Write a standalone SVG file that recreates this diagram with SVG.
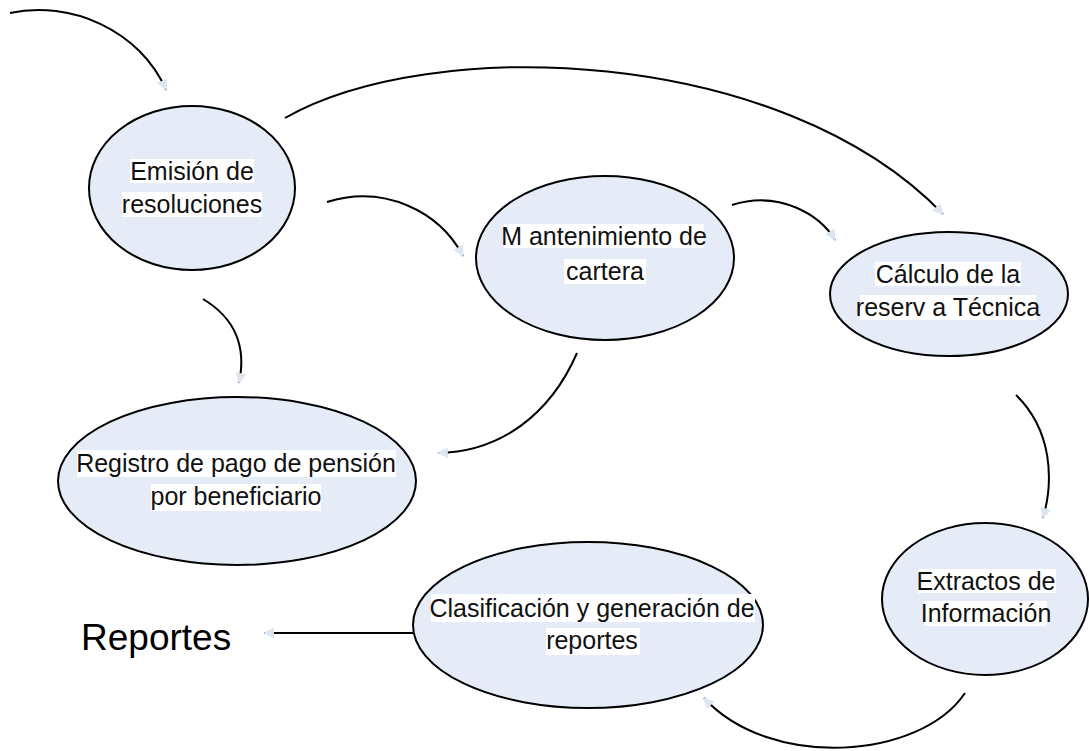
<svg xmlns="http://www.w3.org/2000/svg" width="1089" height="751" viewBox="0 0 1089 751">
<style>
.n{fill:#e6ecf7;stroke:#000;stroke-width:2}
.t{font-family:"Liberation Sans",Arial,sans-serif;font-size:25px;fill:#111;text-anchor:middle}
.bg{fill:#fff}
.c{fill:none;stroke:#000;stroke-width:2}
</style>
<defs>
<marker id="a" viewBox="0 0 10 10" refX="9" refY="5" markerWidth="12" markerHeight="11" markerUnits="userSpaceOnUse" orient="auto">
<path d="M0,0L10,5L0,10z" fill="#dde5f3"/>
</marker>
</defs>
<rect width="1089" height="751" fill="#fff"/>
<g id="connectors">
<path class="c" d="M10,13 C70,0 140,30 166,90" marker-end="url(#a)"/>
<path class="c" d="M285,118 C430,35 780,45 943,214" marker-end="url(#a)"/>
<path class="c" d="M327,202 C385,184 440,212 463,256" marker-end="url(#a)"/>
<path class="c" d="M732,205 C780,190 820,215 835,240" marker-end="url(#a)"/>
<path class="c" d="M203,299 C238,320 246,350 239,383" marker-end="url(#a)"/>
<path class="c" d="M577,353 C550,415 500,452 438,453" marker-end="url(#a)"/>
<path class="c" d="M1016,395 C1052,430 1054,480 1043,518" marker-end="url(#a)"/>
<path class="c" d="M965,693 C920,760 770,770 704,698" marker-end="url(#a)"/>
<path class="c" d="M415,633 L264,633" marker-end="url(#a)"/>
</g>
<g id="emision">
<ellipse class="n" cx="192" cy="188" rx="103" ry="82"/>
<rect class="bg" x="130" y="159" width="124" height="24"/>
<rect class="bg" x="122" y="192" width="140" height="25"/>
<text class="t" x="192" y="180">Emisión de</text>
<text class="t" x="192" y="213">resoluciones</text>
</g>
<g id="mantenimiento">
<ellipse class="n" cx="605" cy="258" rx="129" ry="82"/>
<rect class="bg" x="504" y="224" width="200" height="24"/>
<rect class="bg" x="564" y="259" width="82" height="25"/>
<text class="t" x="604" y="245">M antenimiento de</text>
<text class="t" x="605" y="280">cartera</text>
</g>
<g id="calculo">
<ellipse class="n" cx="949" cy="294" rx="119" ry="62"/>
<rect class="bg" x="875" y="262" width="146" height="24"/>
<rect class="bg" x="860" y="295" width="176" height="25"/>
<text class="t" x="948" y="283">Cálculo de la</text>
<text class="t" x="948" y="316">reserv a Técnica</text>
</g>
<g id="registro">
<ellipse class="n" cx="237" cy="481" rx="179" ry="84"/>
<rect class="bg" x="77" y="450" width="319" height="27"/>
<rect class="bg" x="151" y="484" width="170" height="27"/>
<text class="t" x="236" y="472">Registro de pago de pensión</text>
<text class="t" x="236" y="505">por beneficiario</text>
</g>
<g id="extractos">
<ellipse class="n" cx="985" cy="599" rx="103" ry="76"/>
<rect class="bg" x="918" y="569" width="138" height="24"/>
<rect class="bg" x="924" y="601" width="123" height="25"/>
<text class="t" x="986" y="590">Extractos de</text>
<text class="t" x="986" y="622">Información</text>
</g>
<g id="clasificacion">
<ellipse class="n" cx="588" cy="625" rx="175" ry="83"/>
<rect class="bg" x="431" y="594" width="324" height="28"/>
<rect class="bg" x="546" y="628" width="94" height="27"/>
<text class="t" x="592" y="617">Clasificación y generación de</text>
<text class="t" x="592" y="649">reportes</text>
</g>
<g id="reportes">
<text x="81" y="650" style="font-family:'Liberation Sans',Arial,sans-serif;font-size:37px;fill:#000">Reportes</text>
</g>
</svg>
